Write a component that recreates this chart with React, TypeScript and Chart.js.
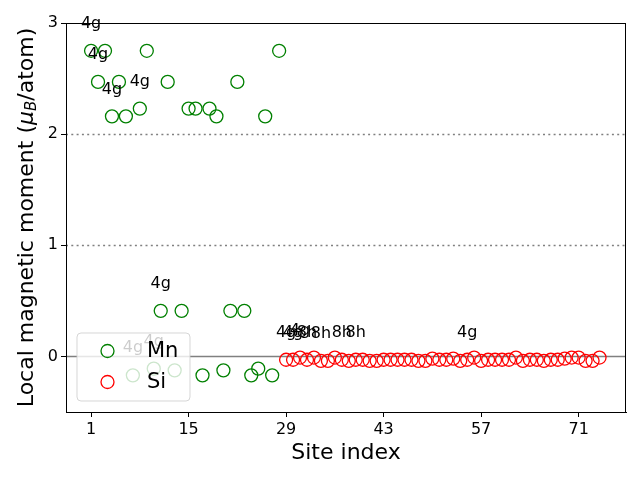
import React, { useEffect, useRef } from "react";
import { Chart, registerables } from "chart.js";

Chart.register(...registerables);

// Mn sites 1..28
const mnSites: number[] = Array.from({ length: 28 }, (_, i) => i + 1);
const mnMoments: number[] = [
  2.75, 2.47, 2.75, 2.16, 2.47, 2.16, -0.17, 2.23, 2.75, -0.11,
  0.41, 2.47, -0.125, 0.41, 2.23, 2.23, -0.17, 2.23, 2.16, -0.125,
  0.41, 2.47, 0.41, -0.17, -0.11, 2.16, -0.17, 2.75,
];

// Si sites 29..74
const siSites: number[] = Array.from({ length: 46 }, (_, i) => i + 29);
const siMoments: number[] = [
  -0.03, -0.03, -0.01, -0.03, -0.01, -0.04, -0.04, -0.01, -0.03, -0.04,
  -0.03, -0.03, -0.04, -0.04, -0.03, -0.03, -0.03, -0.03, -0.03, -0.04,
  -0.04, -0.02, -0.03, -0.03, -0.02, -0.04, -0.03, -0.01, -0.04, -0.03,
  -0.03, -0.03, -0.03, -0.01, -0.04, -0.03, -0.03, -0.04, -0.03, -0.03,
  -0.02, -0.01, -0.01, -0.04, -0.04, -0.01,
];

// annotations: [site, label]
const mnLabelSites: number[] = [1, 2, 4, 8, 11, 7, 10];
const mnLabelTexts: string[] = ["4g", "4g", "4g", "4g", "4g", "4g", "4g"];
const siLabelSites: number[] = [29, 30, 31, 32, 34, 37, 39, 55];
const siLabelTexts: string[] = ["4g", "4g", "4g", "8h", "8h", "8h", "8h", "4g"];

const xTicks: number[] = [1, 15, 29, 43, 57, 71];
const yTicks: number[] = [0, 1, 2, 3];
const dottedLevels: number[] = [1, 2];
const solidLevels: number[] = [0];

const FONT = "'DejaVu Sans', sans-serif";

const overlayPlugin = {
  id: "overlay",
  beforeDatasetsDraw(chart: any) {
    const { ctx, chartArea, scales } = chart;
    const y = scales.y;
    ctx.save();
    ctx.strokeStyle = "#808080";
    ctx.lineWidth = 1.5;
    ctx.setLineDash([2, 3.3]);
    for (const v of dottedLevels) {
      const py = Math.round(y.getPixelForValue(v)) + 0.5;
      ctx.beginPath();
      ctx.moveTo(chartArea.left, py);
      ctx.lineTo(chartArea.right, py);
      ctx.stroke();
    }
    ctx.setLineDash([]);
    for (const v of solidLevels) {
      const py = y.getPixelForValue(v);
      ctx.beginPath();
      ctx.moveTo(chartArea.left, py);
      ctx.lineTo(chartArea.right, py);
      ctx.stroke();
    }
    ctx.restore();
  },
  afterDatasetsDraw(chart: any) {
    const { ctx, chartArea, scales } = chart;
    const xs = scales.x;
    const ys = scales.y;
    ctx.save();
    ctx.fillStyle = "#000";
    ctx.font = `16px ${FONT}`;
    ctx.textAlign = "center";
    ctx.textBaseline = "middle";
    const drawLabels = (sites: number[], texts: string[], allSites: number[], vals: number[]) => {
      sites.forEach((s, i) => {
        const idx = allSites.indexOf(s);
        const px = xs.getPixelForValue(s);
        const py = ys.getPixelForValue(vals[idx]);
        ctx.fillText(texts[i], px, py - 27);
      });
    };
    drawLabels(mnLabelSites, mnLabelTexts, mnSites, mnMoments);
    drawLabels(siLabelSites, siLabelTexts, siSites, siMoments);

    // frame (top & right spines)
    ctx.strokeStyle = "#000";
    ctx.lineWidth = 1;
    ctx.strokeRect(chartArea.left + 0.5, chartArea.top + 0.5, chartArea.right - chartArea.left - 1, chartArea.bottom - chartArea.top);

    // legend
    const lx = chartArea.left + 11;
    const lyb = chartArea.bottom - 11;
    const lw = 113;
    const lh = 68;
    const ly = lyb - lh;
    const r = 4;
    ctx.beginPath();
    ctx.moveTo(lx + r, ly);
    ctx.lineTo(lx + lw - r, ly);
    ctx.quadraticCurveTo(lx + lw, ly, lx + lw, ly + r);
    ctx.lineTo(lx + lw, ly + lh - r);
    ctx.quadraticCurveTo(lx + lw, ly + lh, lx + lw - r, ly + lh);
    ctx.lineTo(lx + r, ly + lh);
    ctx.quadraticCurveTo(lx, ly + lh, lx, ly + lh - r);
    ctx.lineTo(lx, ly + r);
    ctx.quadraticCurveTo(lx, ly, lx + r, ly);
    ctx.closePath();
    ctx.fillStyle = "rgba(255,255,255,0.8)";
    ctx.fill();
    ctx.strokeStyle = "rgba(204,204,204,0.8)";
    ctx.lineWidth = 1;
    ctx.stroke();
    const entries = [
      { label: "Mn", color: "#008000", dy: 18 },
      { label: "Si", color: "#ff0000", dy: 49 },
    ];
    ctx.font = `21px ${FONT}`;
    ctx.textAlign = "left";
    ctx.textBaseline = "middle";
    for (const e of entries) {
      ctx.beginPath();
      ctx.strokeStyle = e.color;
      ctx.lineWidth = 1.3;
      ctx.arc(lx + 30.5, ly + e.dy, 6.5, 0, Math.PI * 2);
      ctx.stroke();
      ctx.fillStyle = "#000";
      ctx.fillText(e.label, lx + 70, ly + e.dy + 1);
    }

    // y-axis title with math
    const cy = (chartArea.top + chartArea.bottom) / 2;
    ctx.translate(27, cy);
    ctx.rotate(-Math.PI / 2);
    const big = `22px ${FONT}`;
    const ital = `italic 22px ${FONT}`;
    const sub = `italic 15px ${FONT}`;
    const parts = [
      { t: "Local magnetic moment (", f: big, dy: 0 },
      { t: "\u03BC", f: ital, dy: 0 },
      { t: "B", f: sub, dy: 5 },
      { t: "/atom)", f: big, dy: 0 },
    ];
    let total = 0;
    for (const p of parts) {
      ctx.font = p.f;
      total += ctx.measureText(p.t).width;
    }
    let cx = -total / 2;
    ctx.fillStyle = "#000";
    ctx.textAlign = "left";
    ctx.textBaseline = "middle";
    for (const p of parts) {
      ctx.font = p.f;
      ctx.fillText(p.t, cx, p.dy);
      cx += ctx.measureText(p.t).width;
    }
    ctx.restore();
  },
};

export default function App() {
  const ref = useRef<HTMLCanvasElement | null>(null);
  useEffect(() => {
    if (!ref.current) return;
    const chart = new Chart(ref.current, {
      type: "scatter",
      data: {
        datasets: [
          {
            label: "Mn",
            data: mnSites.map((s, i) => ({ x: s, y: mnMoments[i] })),
            borderColor: "#008000",
            backgroundColor: "rgba(0,0,0,0)",
            pointRadius: 6.5,
            pointBorderWidth: 1.3,
            pointStyle: "circle",
          },
          {
            label: "Si",
            data: siSites.map((s, i) => ({ x: s, y: siMoments[i] })),
            borderColor: "#ff0000",
            backgroundColor: "rgba(0,0,0,0)",
            pointRadius: 6.5,
            pointBorderWidth: 1.3,
            pointStyle: "circle",
          },
        ],
      },
      options: {
        animation: false,
        responsive: false,
        maintainAspectRatio: false,
        layout: { padding: { top: 23, right: 14, left: 0, bottom: 0 } },
        plugins: {
          legend: { display: false },
          tooltip: { enabled: false },
        },
        scales: {
          x: {
            type: "linear",
            min: -2.6,
            max: 77.8,
            afterBuildTicks: (s: any) => {
              s.ticks = xTicks.map((v) => ({ value: v }));
            },
            afterFit: (s: any) => {
              s.height = 68;
            },
            ticks: {
              color: "#000",
              font: { family: FONT, size: 16 },
              padding: 3,
              maxRotation: 0,
              autoSkip: false,
            },
            grid: { drawOnChartArea: false, drawTicks: true, tickLength: 5, color: "#000" },
            border: { display: true, color: "#000", width: 1 },
            title: {
              display: true,
              text: "Site index",
              color: "#000",
              font: { family: FONT, size: 22 },
              padding: { top: 0, bottom: 14 },
            },
          },
          y: {
            type: "linear",
            min: -0.5,
            max: 3,
            afterBuildTicks: (s: any) => {
              s.ticks = yTicks.map((v) => ({ value: v }));
            },
            afterFit: (s: any) => {
              s.width = 66;
            },
            ticks: {
              color: "#000",
              font: { family: FONT, size: 16 },
              padding: 3,
            },
            grid: { drawOnChartArea: false, drawTicks: true, tickLength: 5, color: "#000" },
            border: { display: true, color: "#000", width: 1 },
          },
        },
      },
      plugins: [overlayPlugin],
    });
    return () => chart.destroy();
  }, []);
  return (
    <div style={{ position: "fixed", left: 0, top: 0, width: 640, height: 480, background: "#fff" }}>
      <canvas ref={ref} width={640} height={480} style={{ width: 640, height: 480 }} />
    </div>
  );
}
